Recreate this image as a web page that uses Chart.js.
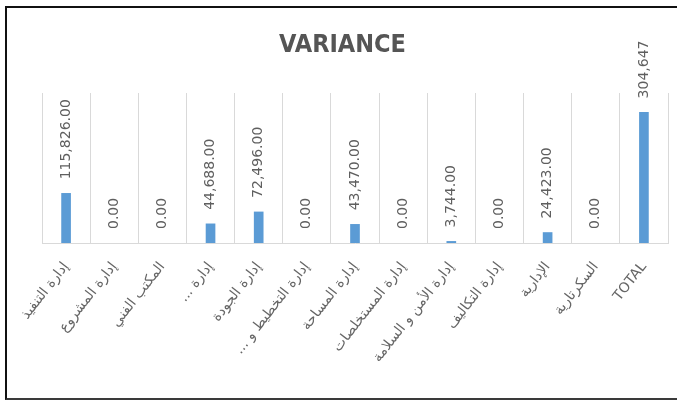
<!DOCTYPE html>
<html>
<head>
<meta charset="utf-8">
<script src="https://cdn.jsdelivr.net/npm/chart.js@4/dist/chart.umd.min.js"></script>
<style>
  html, body { margin: 0; padding: 0; background: #fff; }
  #wrap { position: relative; width: 677px; height: 400px; overflow: hidden; }
  #c { position: absolute; left: 0; top: 0; }
  #frame { position: absolute; left: 5px; top: 6px; width: 700px; height: 390px;
           border-left: 2px solid #111; border-top: 2px solid #111; border-bottom: 2px solid #3a3a3a;
           pointer-events: none; }
</style>
</head>
<body>
<div id="wrap">
  <canvas id="c" width="677" height="400"></canvas>
  <div id="frame"></div>
</div>
<script>
const categories = [
  "إدارة التنفيذ",
  "إدارة المشروع",
  "المكتب الفني",
  "إدارة ...",
  "إدارة الجودة",
  "إدارة التخطيط و ...",
  "إدارة المساحة",
  "إدارة المستخلصات",
  "إدارة الأمن و السلامة",
  "إدارة التكاليف",
  "الإدارية",
  "السكرتارية",
  "TOTAL"
];
const varianceValues = [115826, 0, 0, 44688, 72496, 0, 43470, 0, 3744, 0, 24423, 0, 304647];
const chartTitle = "VARIANCE";
const yMax = 350000;

// right-to-left embedding so trailing "..." sits on the visual left like the original
const displayLabels = categories.map(c => /[\u0600-\u06FF]/.test(c) ? '\u202B' + c + '\u202C' : c);

const valueLabels = {
  id: 'valueLabels',
  afterDatasetsDraw(chart) {
    const ctx = chart.ctx;
    const meta = chart.getDatasetMeta(0);
    ctx.save();
    ctx.beginPath();
    ctx.rect(0, 41, chart.width, chart.height - 41);
    ctx.clip();
    ctx.fillStyle = '#5f5f5f';
    ctx.font = '14px "DejaVu Sans", sans-serif';
    ctx.textAlign = 'left';
    ctx.textBaseline = 'middle';
    meta.data.forEach((bar, i) => {
      const v = varianceValues[i];
      const txt = v.toLocaleString('en-US', {minimumFractionDigits: 2, maximumFractionDigits: 2});
      ctx.save();
      ctx.translate(bar.x, bar.y - 14);
      ctx.rotate(-Math.PI / 2);
      ctx.fillText(txt, 0, 0);
      ctx.restore();
    });
    ctx.restore();
  }
};

new Chart(document.getElementById('c'), {
  type: 'bar',
  data: {
    labels: displayLabels,
    datasets: [{
      data: varianceValues,
      backgroundColor: (c) => (c.raw === 0 ? 'rgba(0,0,0,0)' : '#5b9bd5'),
      barThickness: 9
    }]
  },
  options: {
    responsive: false,
    animation: false,
    layout: { padding: { left: 17, right: 9, top: 0, bottom: 0 } },
    plugins: {
      legend: { display: false },
      tooltip: { enabled: false },
      title: {
        display: true,
        text: chartTitle,
        color: '#555555',
        font: { family: '"Liberation Sans Narrow", "DejaVu Sans Condensed", "Liberation Sans", sans-serif', size: 25, weight: 'bold', lineHeight: 1.2 },
        padding: { top: 30, bottom: 33 }
      }
    },
    scales: {
      x: {
        grid: { display: true, color: '#d9d9d9', lineWidth: 1, drawTicks: false, offset: true },
        border: { display: true, color: '#d9d9d9' },
        ticks: {
          color: '#666666',
          font: { family: '"DejaVu Sans", "Liberation Sans", sans-serif', size: 14 },
          minRotation: 52, maxRotation: 52, autoSkip: false, padding: 16
        },
        afterFit(scale) { scale.height = 157; }
      },
      y: {
        min: 0, max: yMax,
        grid: { display: false },
        border: { display: false },
        ticks: { display: false },
        afterFit(scale) { scale.width = 25; }
      }
    }
  },
  plugins: [valueLabels]
});
</script>
</body>
</html>
